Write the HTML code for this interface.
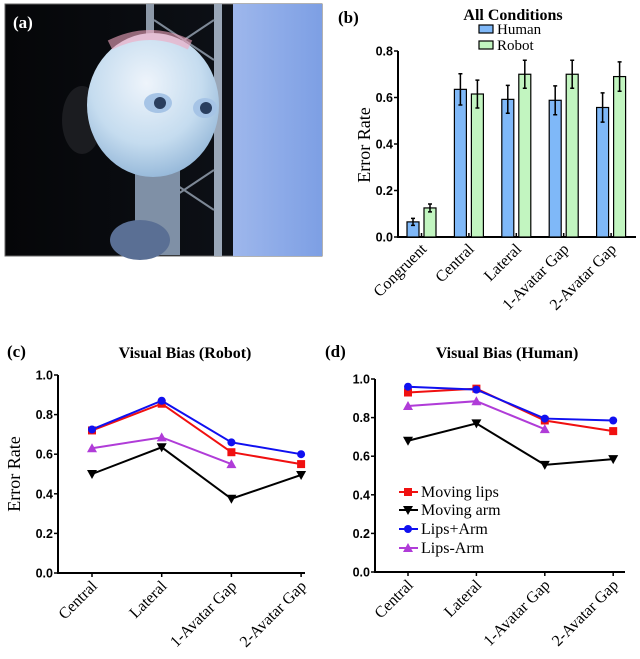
<!DOCTYPE html>
<html><head><meta charset="utf-8"><style>
body{margin:0;background:#fff;width:640px;height:659px;overflow:hidden}
svg{display:block}
text{font-family:"Liberation Serif",serif}
.tk{font-family:"Liberation Sans",sans-serif;font-weight:bold;font-size:12.5px}
</style></head><body>
<svg id="fig" width="640" height="659" viewBox="0 0 640 659">
<defs>
<linearGradient id="bg" x1="0" x2="1"><stop offset="0" stop-color="#050608"/><stop offset="1" stop-color="#10141c"/></linearGradient>
<linearGradient id="blue" x1="0" x2="1"><stop offset="0" stop-color="#9eb7ec"/><stop offset="1" stop-color="#7d9fe4"/></linearGradient>
<radialGradient id="head" cx="0.45" cy="0.35" r="0.7"><stop offset="0" stop-color="#eef4fb"/><stop offset="0.6" stop-color="#c5dcef"/><stop offset="1" stop-color="#8fb3d6"/></radialGradient>
</defs>
<g>
<rect x="5" y="4" width="317" height="252" fill="url(#bg)" stroke="#666"/>
<rect x="233" y="4" width="89" height="252" fill="url(#blue)"/>
<rect x="146" y="4" width="8" height="252" fill="#8d99a8"/>
<rect x="214" y="4" width="8" height="252" fill="#9aa7b8"/>
<path d="M154 20 L214 60 M214 20 L154 60 M154 170 L214 210 M214 170 L154 210" stroke="#7d8896" stroke-width="2"/>
<rect x="135" y="165" width="45" height="90" fill="#7f90a6"/>
<ellipse cx="140" cy="240" rx="30" ry="20" fill="#5a6f94"/>
<ellipse cx="82" cy="120" rx="20" ry="34" fill="#1b1c20"/>
<ellipse cx="153" cy="105" rx="66" ry="72" fill="url(#head)"/>
<path d="M110 45 Q150 25 190 45" stroke="#f2a6c0" stroke-width="10" fill="none" opacity="0.6"/>
<ellipse cx="158" cy="103" rx="14" ry="10" fill="#a6c4e6"/><circle cx="160" cy="103" r="6" fill="#2a3e5e"/>
<ellipse cx="205" cy="108" rx="12" ry="10" fill="#a6c4e6"/><circle cx="206" cy="108" r="6" fill="#2a3e5e"/>
<text x="13" y="28" fill="#fff" font-weight="bold" font-size="17">(a)</text>
</g>
<g id="pb"></g>
<g id="pc"></g>
<g id="pd"></g>
</svg>
<script>
const barCats=["Congruent","Central","Lateral","1-Avatar Gap","2-Avatar Gap"];
const humanVals=[0.065,0.635,0.592,0.588,0.557];
const humanErr=[0.015,0.067,0.06,0.062,0.063];
const robotVals=[0.125,0.615,0.70,0.70,0.69];
const robotErr=[0.017,0.06,0.06,0.06,0.063];
const barTicks=[0,0.2,0.4,0.6,0.8];
const lineCats=["Central","Lateral","1-Avatar Gap","2-Avatar Gap"];
const lineTicks=[0,0.2,0.4,0.6,0.8,1.0];
const robotLips=[0.72,0.855,0.61,0.55];
const robotArm=[0.50,0.635,0.375,0.495];
const robotBoth=[0.725,0.87,0.66,0.60];
const robotDiff=[0.63,0.685,0.55];
const humanLips=[0.93,0.95,0.785,0.73];
const humanArm=[0.68,0.77,0.555,0.585];
const humanBoth=[0.96,0.945,0.795,0.785];
const humanDiff=[0.86,0.885,0.74];
const NS="http://www.w3.org/2000/svg";
function mk(p,t,a,txt){const e=document.createElementNS(NS,t);for(const k in a)e.setAttribute(k,a[k]);if(txt!==undefined)e.textContent=txt;p.appendChild(e);return e;}
function yAxis(g,x0,x1,yb,yt,max,ticks,fmt,title,tx,ty){
 const ys=v=>yb-(yb-yt)*v/max;
 const ax=mk(g,'path',{d:`M${x0} ${yt} V${yb} H${x1}`,stroke:'#000','stroke-width':2,fill:'none'});
 
 ticks.forEach(t=>{mk(g,'line',{x1:x0-4,x2:x0,y1:ys(t),y2:ys(t),stroke:'#000','stroke-width':1.5});
  const l=mk(g,'text',{x:x0-5,y:ys(t)+4.5,'text-anchor':'end',class:'tk'},t.toFixed(1));
  });
 if(title){const t=mk(g,'text',{x:tx,y:ty,'text-anchor':'middle','font-size':18,transform:`rotate(-90 ${tx} ${ty})`},title);
  }
 return ys;}
function xLabel(g,x,y,s){const t=mk(g,'text',{x:x,y:y,'text-anchor':'end','font-size':16,transform:`rotate(-45 ${x} ${y})`},s);
 }
// panel b
(function(){const g=document.getElementById('pb');
 const ys=yAxis(g,398,636,237,51,0.8,barTicks,null,'Error Rate',370,145);
 mk(g,'text',{x:338,y:23,'font-size':17,'font-weight':'bold'},'(b)');
 const tt=mk(g,'text',{x:513,y:20,'text-anchor':'middle','font-size':16,'font-weight':'bold'},'All Conditions');
 
 [['Human','#7fb8f8',34],['Robot','#c2f5c0',50]].forEach(([n,c,y])=>{
  const r=mk(g,'rect',{x:479,y:y-9,width:14,height:8,fill:c,stroke:'#000','stroke-width':1.2});
  
  const t=mk(g,'text',{x:497,y:y,'font-size':15},n);});
 const xs=i=>421.5+i*47.4;
 barCats.forEach((c,i)=>{
  [[humanVals,humanErr,-8.5,'#7fb8f8','human'],[robotVals,robotErr,8.5,'#c2f5c0','robot']].forEach(([v,e,off,col,nm])=>{
   const cx=xs(i)+off,y=ys(v[i]);
   const b=mk(g,'rect',{x:cx-6,y:y,width:12,height:237-y,fill:col,stroke:'#000','stroke-width':1.2});
   
   mk(g,'path',{d:`M${cx} ${ys(v[i]+e[i])}V${ys(v[i]-e[i])}M${cx-2} ${ys(v[i]+e[i])}h4M${cx-2} ${ys(v[i]-e[i])}h4`,stroke:'#000','stroke-width':1.5,fill:'none'});});
  mk(g,'line',{x1:xs(i),x2:xs(i),y1:237,y2:233,stroke:'#000','stroke-width':1.5});
  xLabel(g,xs(i)+6,250,c);});
})();
function lineChart(id,x0,x1,yb,yt,xs0,dx,title,tx,label,lx,series,legend){
 const g=document.getElementById(id);
 const ys=yAxis(g,x0,x1,yb,yt,1.0,lineTicks,null,id==='pc'?'Error Rate':null,20,474);
 const pl=mk(g,'text',{x:lx,y:357,'font-size':17,'font-weight':'bold'},label);
 const tt=mk(g,'text',{x:tx,y:358,'text-anchor':'middle','font-size':16,'font-weight':'bold'},title);
 
 const xs=i=>xs0+i*dx;
 lineCats.forEach((c,i)=>{mk(g,'line',{x1:xs(i),x2:xs(i),y1:yb,y2:yb+4,stroke:'#000','stroke-width':1.5});xLabel(g,xs(i)+6,yb+14,c);});
 series.forEach(([vals,col,mark,nm])=>{
  const pts=vals.map((v,i)=>[xs(i),ys(v)]);
  const l=mk(g,'polyline',{points:pts.map(p=>p.join(',')).join(' '),fill:'none',stroke:col,'stroke-width':2});
  
  pts.forEach(p=>drawMark(g,p[0],p[1],mark,col,nm));});
 return g;}
function drawMark(g,x,y,m,col,nm){let e;
 if(m==='sq')e=mk(g,'rect',{x:x-4,y:y-4,width:8,height:8,fill:col});
 else if(m==='ci')e=mk(g,'circle',{cx:x,cy:y,r:4,fill:col});
 else if(m==='up')e=mk(g,'path',{d:`M${x} ${y-5}L${x+5} ${y+4}L${x-5} ${y+4}Z`,fill:col});
 else e=mk(g,'path',{d:`M${x} ${y+5}L${x+5} ${y-4}L${x-5} ${y-4}Z`,fill:col});
 }
const sc=[[robotArm,'#000','dn','moving-arm'],[robotDiff,'#b03cd8','up','lips-arm'],[robotLips,'#f01010','sq','moving-lips'],[robotBoth,'#1010f0','ci','lips-plus-arm']];
lineChart('pc',58,305,573,375,92,69.7,'Visual Bias (Robot)',185,'(c)',7,sc);
const sd=[[humanArm,'#000','dn','moving-arm'],[humanDiff,'#b03cd8','up','lips-arm'],[humanLips,'#f01010','sq','moving-lips'],[humanBoth,'#1010f0','ci','lips-plus-arm']];
const gd=lineChart('pd',375,625,572,379,408,68.4,'Visual Bias (Human)',507,'(d)',325,sd);
[['Moving lips','#f01010','sq',492],['Moving arm','#000','dn',510],['Lips+Arm','#1010f0','ci',529],['Lips-Arm','#b03cd8','up',548]].forEach(([n,c,m,y])=>{
 mk(gd,'line',{x1:399,x2:418,y1:y,y2:y,stroke:c,'stroke-width':2});drawMark(gd,408,y,m,c,'legend');
 const t=mk(gd,'text',{x:421,y:y+5,'font-size':16},n);});
</script>
</body></html>
